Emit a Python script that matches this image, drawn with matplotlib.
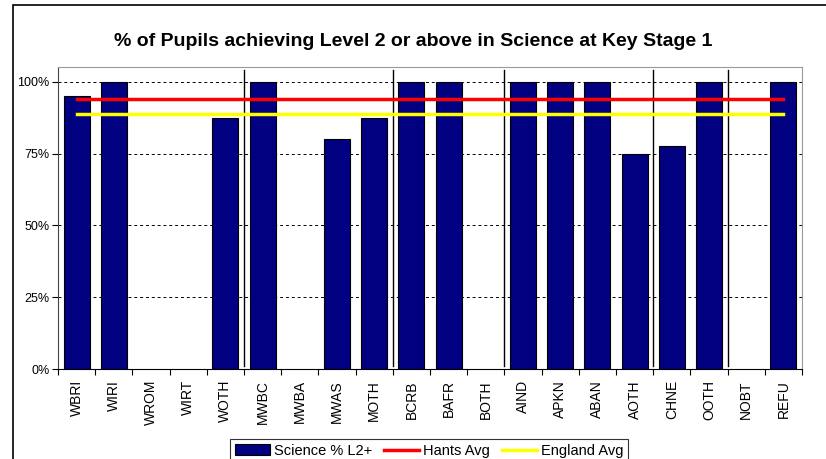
import numpy as np
import matplotlib
matplotlib.use("Agg")
import matplotlib.pyplot as plt
from matplotlib.patches import Rectangle

plt.rcParams['font.family'] = ['Liberation Sans', 'DejaVu Sans']

groups = ['WBRI', 'WIRI', 'WROM', 'WIRT', 'WOTH', 'MWBC', 'MWBA', 'MWAS', 'MOTH', 'BCRB',
          'BAFR', 'BOTH', 'AIND', 'APKN', 'ABAN', 'AOTH', 'CHNE', 'OOTH', 'NOBT', 'REFU']
science = [95, 100, np.nan, np.nan, 87.5, 100, np.nan, 80, 87.5, 100,
           100, np.nan, 100, 100, 100, 75, 77.8, 100, np.nan, 100]
hants_avg = 94
england_avg = 89
separators = [4.5, 8.5, 11.5, 15.5, 17.5]

fig = plt.figure(figsize=(8.26, 4.59), dpi=100)
ax = fig.add_axes([58/826, 1 - 369/459, 744/826, 302/459])

x = np.arange(len(groups))
bars = ax.bar(x, science, width=0.7, color='#000080', edgecolor='black', linewidth=0.8,
              label='Science % L2+', zorder=3)
l1, = ax.plot([x[0], x[-1]], [hants_avg, hants_avg], color='#ff0000', lw=2.5,
              label='Hants Avg', zorder=4)
l2, = ax.plot([x[0], x[-1]], [england_avg, england_avg], color='#ffff00', lw=2.5,
              label='England Avg', zorder=4)

for s in separators:
    ax.axvline(s, ymin=0.01, ymax=0.99, color='black', lw=1, zorder=2)

ax.set_xlim(-0.5, len(groups) - 0.5)
ax.set_ylim(0, 105.2)
ax.set_yticks([0, 25, 50, 75, 100])
ax.set_yticklabels(['0%', '25%', '50%', '75%', '100%'], fontsize=9)
ax.yaxis.grid(True, color='black', linestyle=(0, (3, 3)), lw=0.7, zorder=1)
ax.tick_params(axis='y', length=4, width=0.8, pad=2)

ax.set_xticks(x)
ax.set_xticklabels(groups, rotation=90, fontsize=10)
ax.set_xticks(np.arange(-0.5, len(groups)), minor=True)
ax.tick_params(axis='x', which='major', length=0, pad=8)
ax.tick_params(axis='x', which='minor', length=4, width=0.8)

for side in ['top', 'right']:
    ax.spines[side].set_color('#999999')
ax.spines['left'].set_color('#444444')
ax.spines['bottom'].set_color('black')

fig.text(0.5, 1 - 42/459, '% of Pupils achieving Level 2 or above in Science at Key Stage 1',
         ha='center', va='center', fontsize=14, fontweight='bold')

# chart area border
fig.patches.append(Rectangle((13/826, -0.1), 1.0, 1.1 - 5/459, transform=fig.transFigure,
                             fill=False, edgecolor='black', lw=1.2))

leg = fig.legend([bars, l1, l2], ['Science % L2+', 'Hants Avg', 'England Avg'],
                 loc='upper left', bbox_to_anchor=(223/826, 1 - 432/459), ncol=3,
                 fontsize=10.5, frameon=True, fancybox=False, edgecolor='black',
                 handlelength=2.4, handletextpad=0.3, columnspacing=0.8, borderpad=0.3)
leg.get_frame().set_linewidth(0.8)

fig.savefig('out.png', dpi=100)
